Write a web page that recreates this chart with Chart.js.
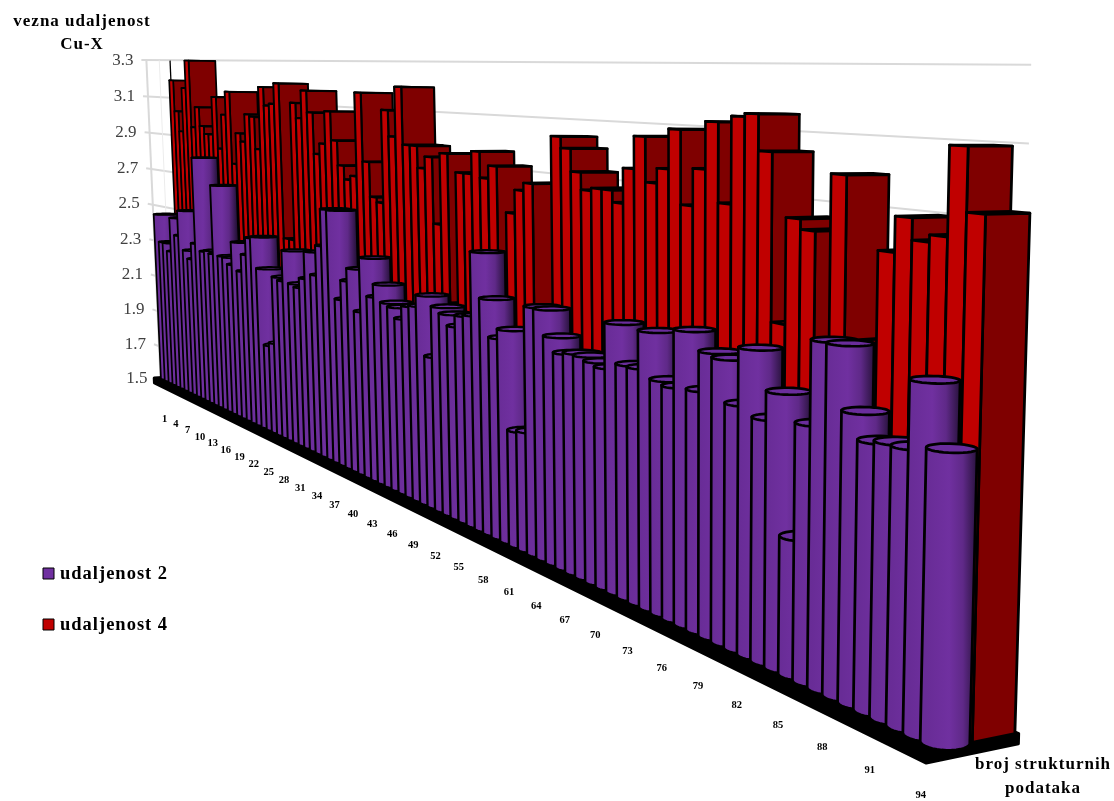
<!DOCTYPE html>
<html>
<head>
<meta charset="utf-8">
<style>
    html, body { margin: 0; padding: 0; background: #fff; }
    canvas { display: block; }
</style>
<script src="https://cdn.jsdelivr.net/npm/chart.js@4/dist/chart.umd.min.js"></script>
</head>
<body>
<canvas id="bars3d" width="1114" height="801"></canvas>
<script>
const categories = [1,2,3,4,5,6,7,8,9,10,11,12,13,14,15,16,17,18,19,20,21,22,23,24,25,26,27,28,29,30,31,32,33,34,35,36,37,38,39,40,41,42,43,44,45,46,47,48,49,50,51,52,53,54,55,56,57,58,59,60,61,62,63,64,65,66,67,68,69,70,71,72,73,74,75,76,77,78,79,80,81,82,83,84,85,86,87,88,89,90,91,92,93,94];
const udaljenost2 = [
    2.44,2.29,2.29,2.25,2.44,2.35,2.49,2.28,2.24,2.33,
    2.79,2.30,2.31,2.30,2.66,2.30,2.30,2.27,2.39,2.25,
    2.34,2.43,2.44,2.29,1.92,1.94,2.27,2.26,2.41,2.26,
    2.25,2.30,2.43,2.33,2.47,2.64,2.64,2.25,2.34,2.40,
    2.22,2.46,2.30,2.36,2.29,2.28,2.24,2.30,2.31,2.36,
    2.12,2.33,2.31,2.27,2.32,2.33,2.58,2.41,2.27,2.31,
    1.94,1.95,2.42,2.42,2.33,2.28,2.29,2.29,2.28,2.27,
    2.43,2.30,2.30,2.43,2.28,2.27,2.46,2.28,2.41,2.40,
    2.27,2.45,2.25,2.34,1.92,2.27,2.52,2.52,2.34,2.27,
    2.28,2.28,2.47,2.30
];
const udaljenost4 = [
    3.19,3.02,2.91,3.15,3.30,2.94,3.05,2.95,2.91,2.91,
    3.11,2.84,3.02,3.14,2.77,2.93,2.89,3.03,3.02,2.86,
    3.17,3.08,3.09,3.19,2.44,2.44,3.10,3.03,3.16,3.06,
    2.87,2.92,3.07,2.94,2.83,2.77,2.79,3.16,2.86,2.71,
    2.69,3.09,2.98,3.19,2.95,2.95,2.86,2.91,2.64,2.93,
    2.33,2.86,2.86,2.95,2.85,2.90,2.50,2.73,2.82,2.85,
    2.40,2.41,3.03,2.99,2.91,2.85,2.86,2.86,2.82,2.94,
    3.05,2.90,2.95,3.08,2.84,2.96,3.11,2.86,3.13,3.14,
    3.03,2.52,2.84,2.81,2.47,2.98,2.51,2.52,2.78,2.88,
    2.82,2.84,3.08,2.91
];
const yTicks = [1.5,1.7,1.9,2.1,2.3,2.5,2.7,2.9,3.1,3.3];
const yTitle = ['vezna udaljenost', 'Cu-X'];
const xTitle = ['broj strukturnih', 'podataka'];

const PURPLE = '#7030a0';
const RED = '#c00000';
const DARK_RED = '#7f0000';
const SERIF = '"Liberation Serif", "Times New Roman", serif';

// Perspective of the 3D box. a = along the categories (0..1), h = up the value axis (0..1),
// d = into the picture (0 = centre of the purple row, 1 = back of the floor)
const O = { x: 173, y: 378 };
const END = { x: 945, y: 742 };
const R = 2.15;
const PA = 1 / R - 1;
const A = { x: END.x / R - O.x, y: END.y / R - O.y };
const PH = -0.0262;
const H = { x: PH * 684, y: PH * 12185 };
const PD = 0.01128;
const D = { x: PD * 3850, y: PD * 146 };

function project(a, h, d) {
    const w = 1 + a * PA + h * PH + d * PD;
    return {
        x: (O.x + a * A.x + h * H.x + d * D.x) / w,
        y: (O.y + a * A.y + h * H.y + d * D.y) / w
    };
}

function poly(ctx, pts) {
    ctx.beginPath();
    pts.forEach((p, i) => i ? ctx.lineTo(p.x, p.y) : ctx.moveTo(p.x, p.y));
    ctx.closePath();
}

function line(ctx, p, q) {
    ctx.beginPath();
    ctx.moveTo(p.x, p.y);
    ctx.lineTo(q.x, q.y);
    ctx.stroke();
}

// turn a bar element of the chart into box coordinates
function barPos(chart, el) {
    const area = chart.chartArea;
    const n = chart.data.labels.length;
    return {
        a: ((el.x - area.left) / area.width * n - 0.5) / (n - 1),
        half: (el.width / 2) / area.width * n / (n - 1),
        h: (area.bottom - el.y) / area.height
    };
}

function drawWalls(ctx, chart) {
    const y = chart.scales.y;
    const area = chart.chartArea;
    ctx.strokeStyle = '#d9d9d9';
    ctx.lineWidth = 2;
    y.ticks.forEach(t => {
        const h = (area.bottom - y.getPixelForValue(t.value)) / area.height;
        const p = project(0, h, -0.3);
        const q = project(1.006, h, 0.82);
        line(ctx, { x: p.x - 5, y: p.y }, { x: q.x, y: q.y + 4 });
    });
    line(ctx, project(0, 1, -0.3), project(0, 0, -0.3));
    ctx.strokeStyle = '#ececec';
    ctx.lineWidth = 1;
    line(ctx, project(0, 1, 0), project(0, 0, 0));
}

function drawFloor(ctx) {
    const a0 = -0.006, a1 = 1.006, d0 = -0.4, d1 = 0.92, low = -0.016;
    ctx.fillStyle = '#000';
    ctx.strokeStyle = '#000';
    ctx.lineWidth = 3;
    ctx.lineJoin = 'round';
    poly(ctx, [project(a0, 0, d0), project(a0, low, d0), project(a1, low, d0), project(a1, low, d1), project(a1, 0, d1), project(a0, 0, d1)]);
    ctx.fill();
    ctx.stroke();
}

function drawRedBar(ctx, pos) {
    const dF = 0.26, dB = 0.88;
    const l = pos.a - pos.half, r = pos.a + pos.half, h = pos.h;
    ctx.lineWidth = 1.7 + 1.1 * pos.a;
    ctx.strokeStyle = '#000';
    ctx.lineJoin = 'round';
    // top, side, front
    ctx.fillStyle = DARK_RED;
    poly(ctx, [project(l, h, dF), project(r, h, dF), project(r, h, dB), project(l, h, dB)]);
    ctx.fill(); ctx.stroke();
    poly(ctx, [project(r, h, dF), project(r, h, dB), project(r, 0, dB), project(r, 0, dF)]);
    ctx.fill(); ctx.stroke();
    ctx.fillStyle = RED;
    poly(ctx, [project(l, h, dF), project(r, h, dF), project(r, 0, dF), project(l, 0, dF)]);
    ctx.fill(); ctx.stroke();
}

function ring(a, ra, h, rd) {
    const pts = [];
    for (let i = 0; i < 32; i++) {
        const t = i / 32 * Math.PI * 2;
        pts.push(project(a + ra * Math.cos(t), h, rd * Math.sin(t)));
    }
    return pts;
}

function drawCylinder(ctx, pos) {
    const ra = pos.half * 1.7, rd = 0.28;
    const top = ring(pos.a, ra, pos.h, rd);
    const bottom = ring(pos.a, ra, 0, rd);
    const extreme = (pts, sign) => pts.reduce((best, p, i) => sign * p.x > sign * pts[best].x ? i : best, 0);
    const tL = extreme(top, -1), tR = extreme(top, 1), bL = extreme(bottom, -1), bR = extreme(bottom, 1);

    // lower half of the bottom ring, from its left end to its right end
    const walk = step => {
        const out = [];
        for (let i = bL; ; i = (i + step + 32) % 32) {
            out.push(bottom[i]);
            if (i === bR) break;
        }
        return out;
    };
    const w1 = walk(1), w2 = walk(-1);
    const meanY = w => w.reduce((s, p) => s + p.y, 0) / w.length;
    const lower = meanY(w1) > meanY(w2) ? w1 : w2;

    const grad = ctx.createLinearGradient(top[tL].x, 0, top[tR].x, 0);
    grad.addColorStop(0, '#682c96');
    grad.addColorStop(0.45, '#7030a0');
    grad.addColorStop(0.72, '#5f2988');
    grad.addColorStop(1, '#28123c');

    ctx.lineWidth = 1.7 + 1.1 * pos.a;
    ctx.strokeStyle = '#000';
    ctx.lineJoin = 'round';
    ctx.fillStyle = grad;
    poly(ctx, [top[tL]].concat(lower, [top[tR]]));
    ctx.fill(); ctx.stroke();
    ctx.fillStyle = '#6a2d9c';
    poly(ctx, top);
    ctx.fill(); ctx.stroke();
}

function drawBars(ctx, chart) {
    const red = chart.getDatasetMeta(1).data.map(el => barPos(chart, el));
    const purple = chart.getDatasetMeta(0).data.map(el => barPos(chart, el));
    // the first red bar has a thin line running on up to the top of the axis
    ctx.strokeStyle = '#000';
    ctx.lineWidth = 1.3;
    line(ctx, project(red[0].a - red[0].half, 1, 0.3), project(red[0].a - red[0].half, red[0].h, 0.3));
    red.forEach(pos => drawRedBar(ctx, pos));
    purple.forEach(pos => drawCylinder(ctx, pos));
}

function drawTicks(ctx, chart) {
    const y = chart.scales.y;
    const x = chart.scales.x;
    const area = chart.chartArea;
    ctx.textBaseline = 'middle';
    ctx.fillStyle = '#404040';
    ctx.font = '17px ' + SERIF;
    ctx.textAlign = 'right';
    y.ticks.forEach(t => {
        const h = (area.bottom - y.getPixelForValue(t.value)) / area.height;
        const p = project(0, h, -0.3);
        ctx.fillText(t.value.toFixed(1), p.x - 13, p.y);
    });
    ctx.fillStyle = '#000';
    ctx.font = 'bold 10.5px ' + SERIF;
    ctx.textAlign = 'center';
    const n = chart.data.labels.length;
    for (let i = 0; i < n; i += 3) {
        const u = i / (n - 1);
        const p = project(u, 0, -0.3);
        ctx.fillText(x.getLabelForValue(i), p.x + 4 - 7 * u, p.y + 40 + 9 * u);
    }
}

function drawTitles(ctx, chart) {
    ctx.fillStyle = '#000';
    ctx.textBaseline = 'middle';
    ctx.textAlign = 'center';
    ctx.letterSpacing = '1px';
    ctx.font = 'bold 17px ' + SERIF;
    ctx.fillText(yTitle[0], 82, 22);
    ctx.fillText(yTitle[1], 82, 45);
    ctx.fillText(xTitle[0], 1043, 765);
    ctx.fillText(xTitle[1], 1043, 789);

    ctx.textAlign = 'left';
    ctx.font = 'bold 18.5px ' + SERIF;
    chart.data.datasets.forEach((ds, i) => {
        const yPos = 574 + i * 51;
        ctx.fillStyle = ds.backgroundColor;
        ctx.fillRect(43, yPos - 6, 11, 11);
        ctx.strokeStyle = '#000';
        ctx.lineWidth = 1;
        ctx.strokeRect(43, yPos - 6, 11, 11);
        ctx.fillStyle = '#000';
        ctx.fillText(ds.label, 60, yPos);
    });
    ctx.letterSpacing = '0px';
}

const bars3d = {
    id: 'bars3d',
    beforeDatasetsDraw(chart) {
        const ctx = chart.ctx;
        ctx.save();
        drawWalls(ctx, chart);
        drawFloor(ctx);
        drawBars(ctx, chart);
        drawTicks(ctx, chart);
        drawTitles(ctx, chart);
        ctx.restore();
        return false;
    }
};

new Chart(document.getElementById('bars3d'), {
    type: 'bar',
    data: {
        labels: categories,
        datasets: [
            { label: 'udaljenost 2', data: udaljenost2, backgroundColor: PURPLE },
            { label: 'udaljenost 4', data: udaljenost4, backgroundColor: RED }
        ]
    },
    options: {
        responsive: false,
        animation: false,
        layout: { padding: { left: 150, right: 90, top: 60, bottom: 426 } },
        plugins: { legend: { display: false }, tooltip: { enabled: false } },
        datasets: { bar: { categoryPercentage: 1, barPercentage: 1, grouped: false } },
        scales: {
            x: { display: false },
            y: {
                display: false,
                min: 1.5,
                max: 3.3,
                afterBuildTicks: axis => { axis.ticks = yTicks.map(v => ({ value: v })); }
            }
        }
    },
    plugins: [bars3d]
});
</script>
</body>
</html>
